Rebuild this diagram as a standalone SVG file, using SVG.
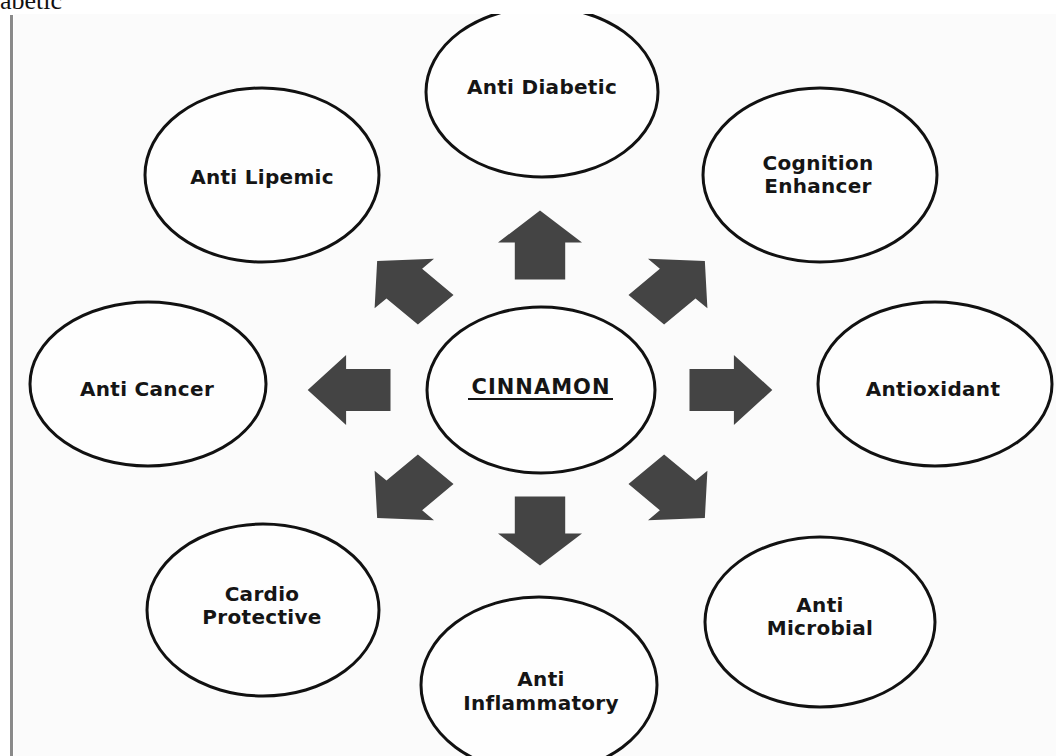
<svg xmlns="http://www.w3.org/2000/svg" width="1056" height="756" viewBox="0 0 1056 756">
<defs>
<style>
.node ellipse{fill:#fefefe;stroke:#111;stroke-width:3}
.lbl{font-family:"DejaVu Sans",Verdana,sans-serif;font-weight:bold;font-size:20px;letter-spacing:0.3px;fill:#151515;text-anchor:middle}
.arr{fill:#444444}
</style>
<clipPath id="area"><rect x="14" y="14" width="1042" height="742"/></clipPath>
<polygon id="ar" points="34,0 2,-35 2,-21 -35,-21 -35,21 2,21 2,35"/>
</defs>
<rect width="1056" height="756" fill="#ffffff"/>
<rect x="14" y="14" width="1042" height="742" fill="#fbfbfb"/>
<rect x="10" y="15" width="3" height="741" fill="#8a8a8a"/>
<text x="0" y="9" font-family="'Liberation Serif',serif" font-size="26" fill="#111">abetic</text>
<g clip-path="url(#area)">
<g id="connectors" class="arr">
<use href="#ar" transform="translate(540,244.5) scale(1.2,1) rotate(-90)"/>
<use href="#ar" transform="translate(540,531.5) scale(1.2,1) rotate(90)"/>
<use href="#ar" transform="translate(348.5,390) scale(1.2,1) rotate(180)"/>
<use href="#ar" transform="translate(731.5,390) scale(1.2,1)"/>
<use href="#ar" transform="translate(406,285) scale(1.2,1) rotate(-135)"/>
<use href="#ar" transform="translate(676,285) scale(1.2,1) rotate(-45)"/>
<use href="#ar" transform="translate(406,494) scale(1.2,1) rotate(135)"/>
<use href="#ar" transform="translate(676,494) scale(1.2,1) rotate(45)"/>
</g>
<g id="anti-diabetic" class="node"><ellipse cx="542" cy="92" rx="116" ry="85"/><text class="lbl" x="542" y="94">Anti Diabetic</text></g>
<g id="anti-lipemic" class="node"><ellipse cx="262" cy="175" rx="117" ry="87"/><text class="lbl" x="262" y="184">Anti Lipemic</text></g>
<g id="cognition-enhancer" class="node"><ellipse cx="820" cy="175" rx="117" ry="87"/><text class="lbl" x="818" y="170">Cognition</text><text class="lbl" x="818" y="193">Enhancer</text></g>
<g id="anti-cancer" class="node"><ellipse cx="148" cy="384" rx="118" ry="82"/><text class="lbl" x="147" y="396">Anti Cancer</text></g>
<g id="cinnamon" class="node"><ellipse cx="541" cy="390" rx="114" ry="83"/><text class="lbl" x="541" y="394" style="font-size:21px;letter-spacing:1px">CINNAMON</text><line x1="468" y1="399" x2="613" y2="399" stroke="#151515" stroke-width="2"/></g>
<g id="antioxidant" class="node"><ellipse cx="935" cy="384" rx="117" ry="82"/><text class="lbl" x="933" y="396">Antioxidant</text></g>
<g id="cardio-protective" class="node"><ellipse cx="263" cy="610" rx="116" ry="86"/><text class="lbl" x="262" y="601">Cardio</text><text class="lbl" x="262" y="624">Protective</text></g>
<g id="anti-inflammatory" class="node"><ellipse cx="539" cy="685" rx="118" ry="88"/><text class="lbl" x="541" y="686">Anti</text><text class="lbl" x="541" y="710">Inflammatory</text></g>
<g id="anti-microbial" class="node"><ellipse cx="820" cy="622" rx="115" ry="85"/><text class="lbl" x="820" y="612">Anti</text><text class="lbl" x="820" y="635">Microbial</text></g>
</g>
</svg>
